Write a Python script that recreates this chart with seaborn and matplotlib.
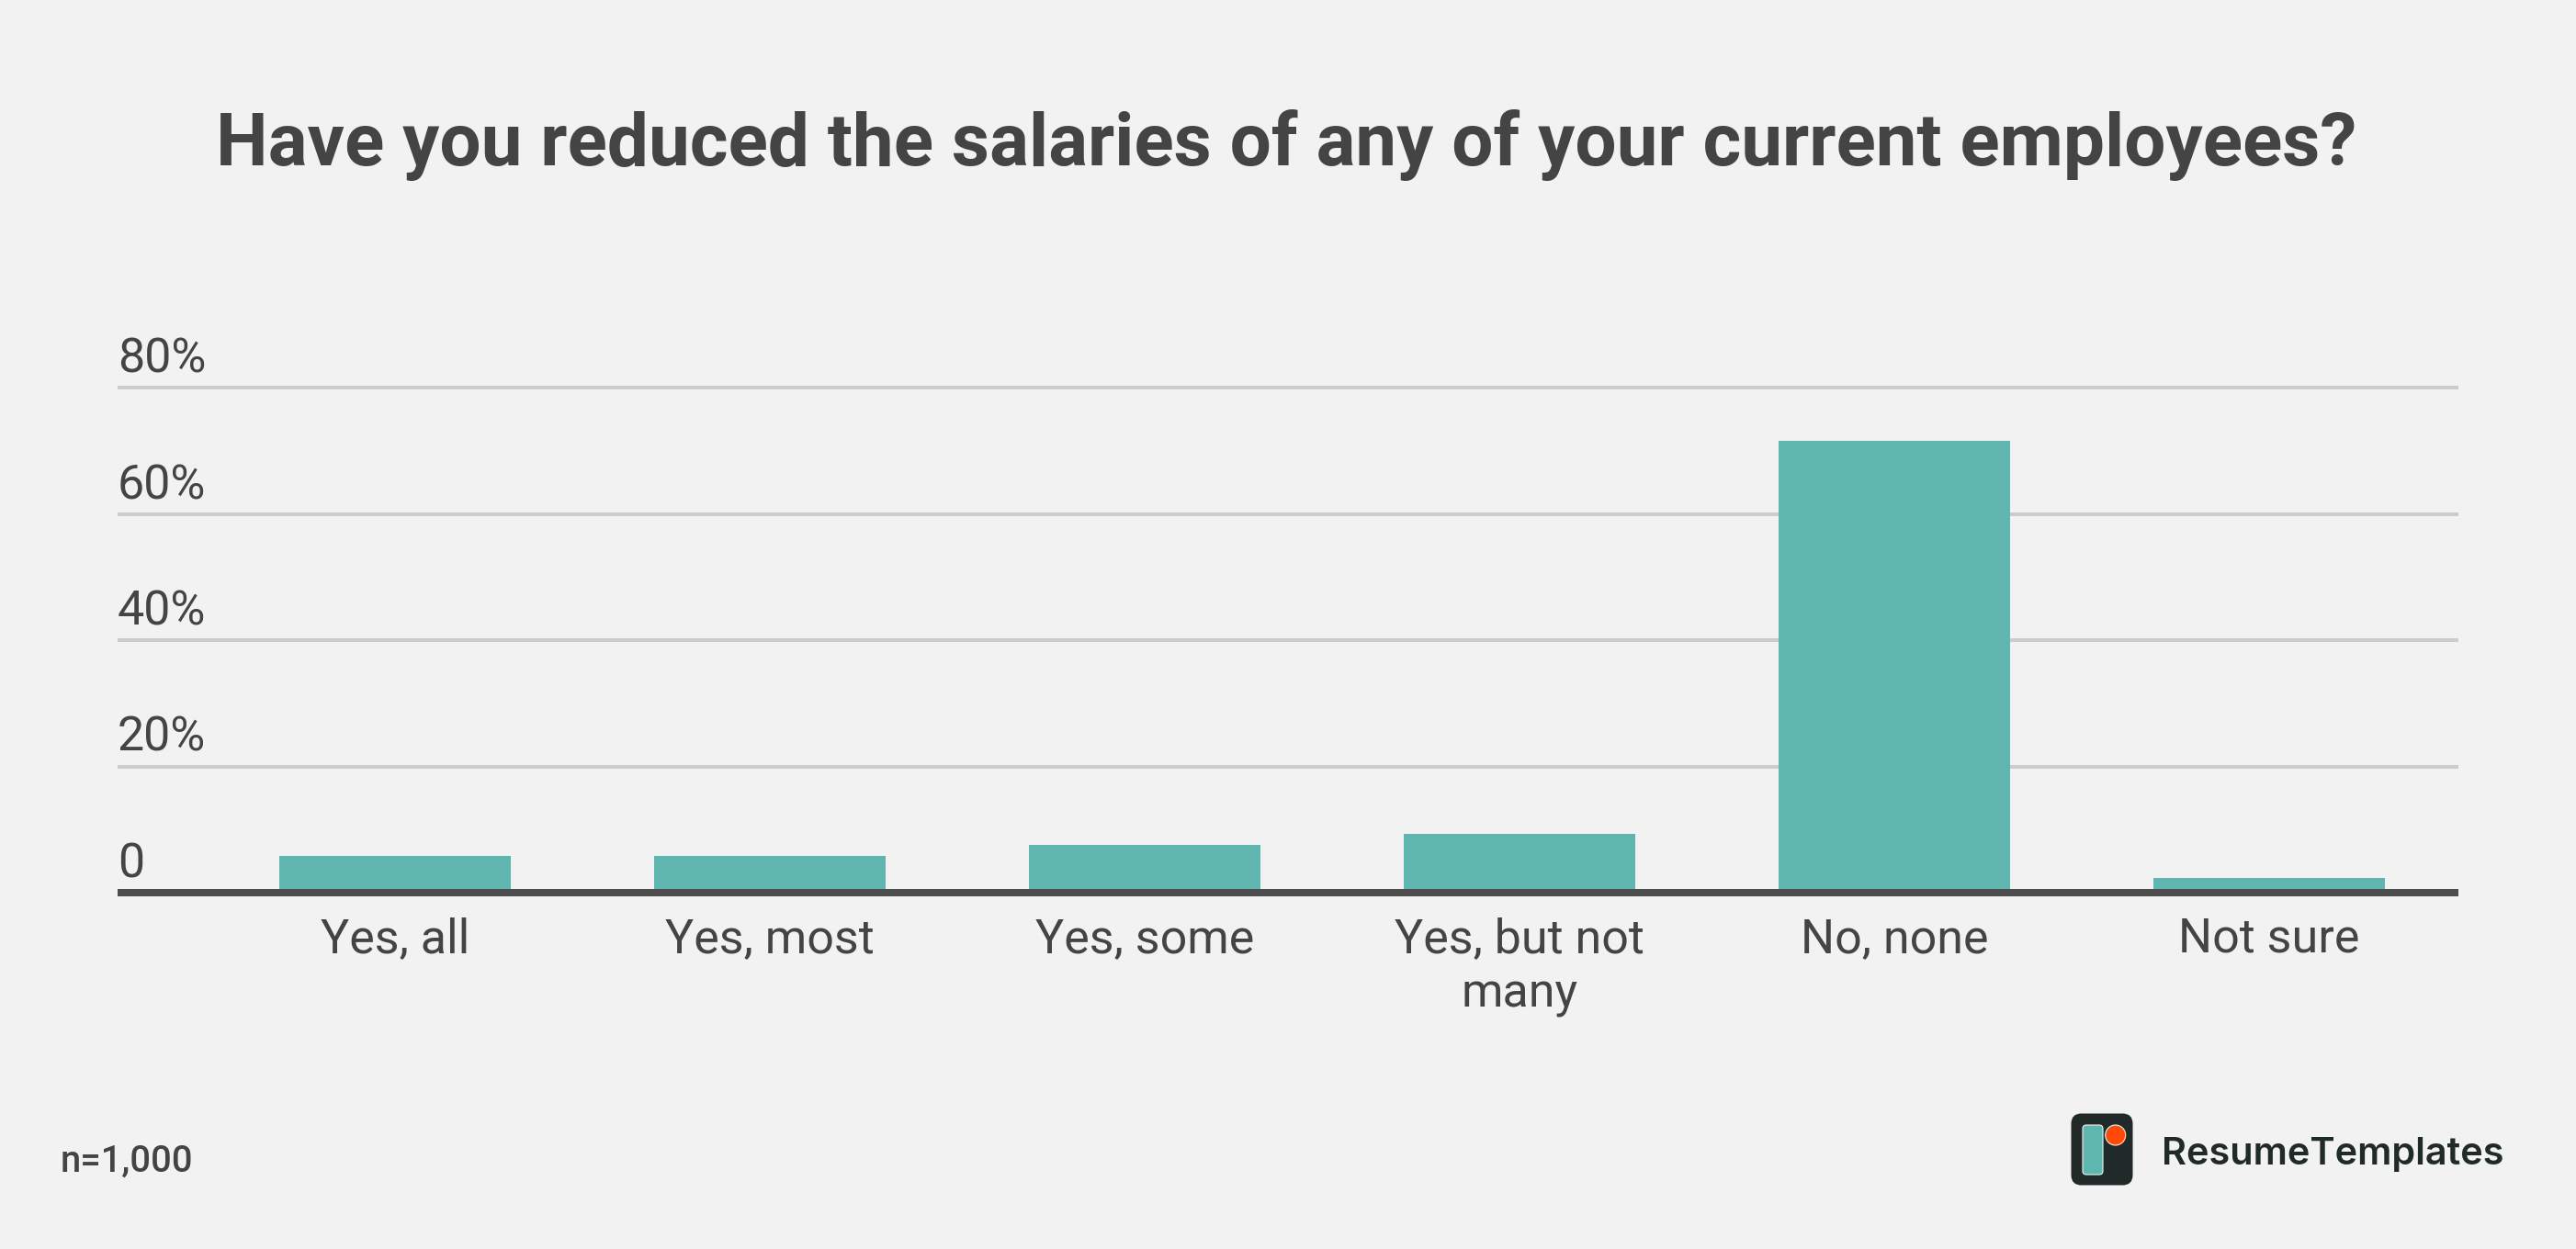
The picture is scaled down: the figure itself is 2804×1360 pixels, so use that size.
import matplotlib
matplotlib.use("Agg")
import matplotlib.pyplot as plt
from matplotlib.patches import FancyBboxPatch, Circle
from matplotlib.transforms import ScaledTranslation
import seaborn as sns
import pandas as pd

categories = ["Yes, all", "Yes, most", "Yes, some", "Yes, but not\nmany", "No, none", "Not sure"]
values = [5.8, 5.8, 7.6, 9.3, 71.6, 2.3]
y_ticks = [0, 20, 40, 60, 80]
y_tick_labels = ["0", "20%", "40%", "60%", "80%"]
title = "Have you reduced the salaries of any of your current employees?"
note = "n=1,000"
brand = "ResumeTemplates"

W, H = 2804, 1360
BG = "#f2f2f2"; TXT = "#444444"; BAR = "#5eb6af"; AXC = "#4d4d4d"; GRID = "#cccccc"
px = 0.72  # points per pixel at dpi=100

sns.set_theme(style="white")
plt.rcParams["font.family"] = ["Roboto", "DejaVu Sans"]

fig = plt.figure(figsize=(W / 100, H / 100), dpi=100, facecolor=BG)
left, right, top, bottom = 128, 2676, 422, 972
ax = fig.add_axes([left / W, 1 - bottom / H, (right - left) / W, (bottom - top) / H])
ax.set_facecolor("none")

df = pd.DataFrame({"category": categories, "value": values})
sns.barplot(data=df, x="category", y="value", color=BAR, saturation=1, width=0.6176,
            linewidth=0, edgecolor="none", ax=ax, zorder=2)

ax.set_xlim((left - 430) / 408, (right - 430) / 408)
ax.set_ylim(0, 80)
ax.set_xlabel(""); ax.set_ylabel("")
ax.set_yticks(y_ticks)
ax.set_yticklabels(y_tick_labels)
ax.yaxis.grid(True, color=GRID, linewidth=4 * px, zorder=1)
ax.xaxis.grid(False)
ax.set_axisbelow(True)
for gl in ax.get_ygridlines():
    gl.set_clip_on(False)
    gl.set_solid_capstyle("butt")
for s in ("top", "left", "right"):
    ax.spines[s].set_visible(False)
sp = ax.spines["bottom"]
sp.set_color(AXC); sp.set_linewidth(8 * px); sp.set_capstyle("butt"); sp.set_zorder(5)

ax.tick_params(axis="both", length=0)
ax.tick_params(axis="y", pad=0, labelsize=52 * px, labelcolor=TXT)
ax.tick_params(axis="x", pad=18.5, labelsize=52 * px, labelcolor=TXT)
for lab in ax.get_yticklabels():
    lab.set_horizontalalignment("left")
    lab.set_verticalalignment("baseline")
    lab.set_transform(lab.get_transform() + ScaledTranslation(0, 16.5 / 100, fig.dpi_scale_trans))
for lab in ax.get_xticklabels():
    lab.set_linespacing(1.26)

fig.text(1400 / W, 1 - 180 / H, title, ha="center", va="baseline", fontsize=80 * px,
         fontweight="bold", color=TXT)
fig.text(66 / W, 1 - 1276 / H, note, ha="left", va="baseline", fontsize=40 * px,
         fontweight="medium", color=TXT)

# brand mark
ov = fig.add_axes([0, 0, 1, 1], facecolor="none")
ov.set_xlim(0, W); ov.set_ylim(H, 0); ov.axis("off")
ov.add_patch(FancyBboxPatch((2261, 1219), 54, 65, boxstyle="round,pad=6.5,rounding_size=11", fc="#202b29", ec="#202b29", lw=0))
ov.add_patch(FancyBboxPatch((2269, 1227), 18, 50, boxstyle="round,pad=2,rounding_size=4", fc=BAR, ec="#f2f2f2", lw=0.8))
ov.add_patch(Circle((2302.7, 1236), 11, fc="#ff4a05", ec="#f2f2f2", lw=0.8))
ov.text(2353, 1268, brand, ha="left", va="baseline", fontsize=41.5 * px, fontweight="semibold",
        family=["Inter", "DejaVu Sans"], color="#202b29")

fig.savefig("out.png", dpi=100, facecolor=BG)
